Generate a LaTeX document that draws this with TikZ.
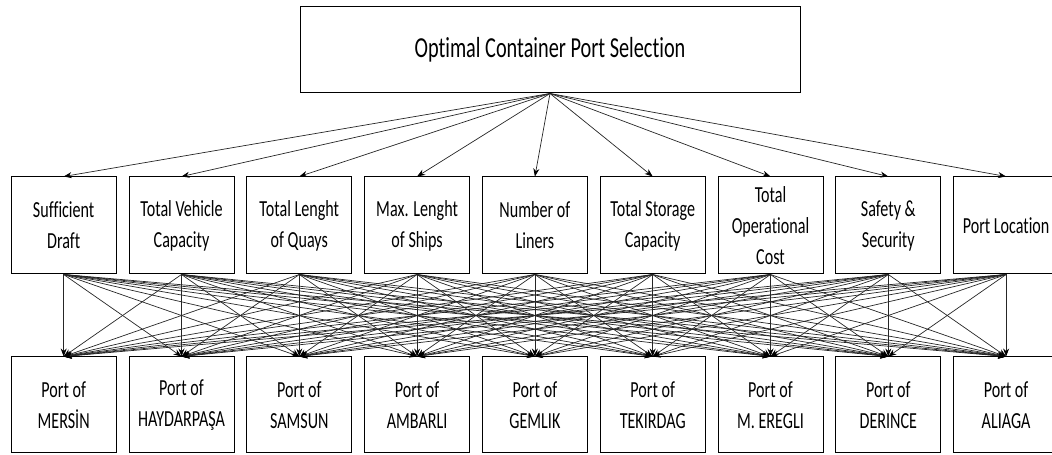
\documentclass[tikz,border=0pt]{standalone}
\usepackage{fontspec}
\setmainfont{Carlito}[FakeStretch=0.7,Ligatures=NoCommon]
\usetikzlibrary{positioning,arrows.meta}

\begin{document}
\begin{tikzpicture}[->,>={Stealth[length=8pt,width=6pt,color=black]},x=1pt,y=1pt,node distance=117.8pt,
        main node/.style={rectangle,draw,line width=1pt,minimum width=105pt,minimum height=97pt,inner sep=0pt,align=center,font=\fontsize{23}{31}\selectfont},
        link/.style={line width=0.7pt,draw=black!85}]

    \useasboundingbox (0,0) rectangle (1052,455);

    \node[main node,minimum width=500pt,minimum height=86pt,font=\fontsize{29}{35}\selectfont] (0) at (550,405) {Optimal Container Port Selection};

    \node[main node] (c1) at (63.7,229.5) {Sufficient\\Draft};
    \node[main node] (c2) [right of=c1] {Total Vehicle\\Capacity};
    \node[main node] (c3) [right of=c2] {Total Lenght\\of Quays};
    \node[main node] (c4) [right of=c3] {Max. Lenght\\of Ships};
    \node[main node] (c5) [right of=c4] {Number of\\Liners};
    \node[main node] (c6) [right of=c5] {Total Storage\\Capacity};
    \node[main node] (c7) [right of=c6] {Total\\Operational\\Cost};
    \node[main node] (c8) [right of=c7] {Safety \&\\Security};
    \node[main node] (c9) [right of=c8] {Port Location};

    \node[main node,minimum height=96pt] (p1) at (63.7,50) {Port of\\MERSİN};
    \node[main node,minimum height=96pt] (p2) [right of=p1] {Port of\\HAYDARPAŞA};
    \node[main node,minimum height=96pt] (p3) [right of=p2] {Port of\\SAMSUN};
    \node[main node,minimum height=96pt] (p4) [right of=p3] {Port of\\AMBARLI};
    \node[main node,minimum height=96pt] (p5) [right of=p4] {Port of\\GEMLIK};
    \node[main node,minimum height=96pt] (p6) [right of=p5] {Port of\\TEKIRDAG};
    \node[main node,minimum height=96pt] (p7) [right of=p6] {Port of\\M. EREGLI};
    \node[main node,minimum height=96pt] (p8) [right of=p7] {Port of\\DERINCE};
    \node[main node,minimum height=96pt] (p9) [right of=p8] {Port of\\ALIAGA};

    \foreach \i in {1,...,9}{
        \draw[link] (0.south) -- (c\i.north);
        \foreach \j in {1,...,9}
            \draw[link] (c\i.south) -- (p\j.north);
    }

\end{tikzpicture}
\end{document}
